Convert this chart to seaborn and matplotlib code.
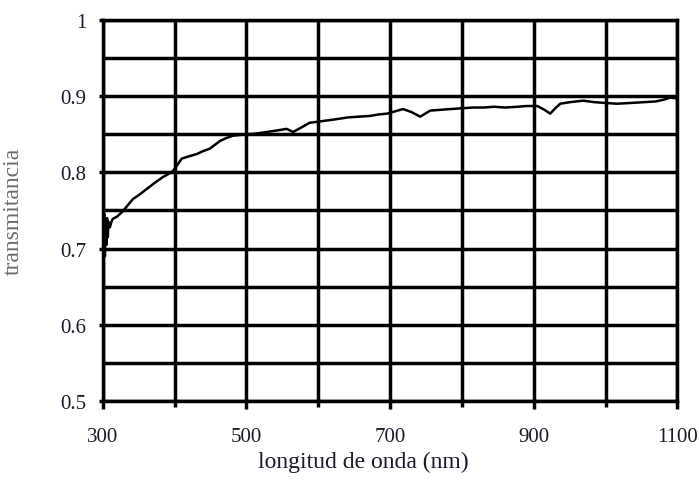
import matplotlib
matplotlib.use("Agg")
import matplotlib.pyplot as plt
from matplotlib.ticker import FixedLocator
import pandas as pd
import seaborn as sns

# Transmittance spectrum
wavelength = [300, 301, 302, 303, 304, 305, 306, 307, 308, 310, 312, 314,
              320, 328, 335, 342, 350, 361, 372, 384, 392, 398, 404, 410,
              420, 431, 440, 449, 456, 463, 472, 481, 490, 501, 515, 529,
              543, 556, 565, 575, 588, 604, 620, 641, 656, 672, 685, 696,
              707, 718, 730, 742, 756, 770, 784, 800, 815, 830, 845, 860,
              877, 890, 905, 915, 923, 930, 937, 950, 969, 985, 1000, 1016,
              1035, 1053, 1070, 1080, 1090, 1100]
transmittance = [0.700, 0.675, 0.745, 0.690, 0.735, 0.705, 0.740, 0.715, 0.735,
                 0.728, 0.735, 0.739, 0.742, 0.749, 0.757, 0.765, 0.770,
                 0.778, 0.786, 0.794, 0.798, 0.802, 0.810, 0.818, 0.821,
                 0.824, 0.828, 0.831, 0.836, 0.841, 0.845, 0.848, 0.849,
                 0.850, 0.851, 0.853, 0.855, 0.857, 0.853, 0.858, 0.865,
                 0.867, 0.869, 0.872, 0.873, 0.874, 0.876, 0.877, 0.880,
                 0.883, 0.879, 0.873, 0.881, 0.882, 0.883, 0.884, 0.885,
                 0.885, 0.886, 0.885, 0.886, 0.887, 0.887, 0.882, 0.877,
                 0.884, 0.890, 0.892, 0.894, 0.892, 0.891, 0.890, 0.891,
                 0.892, 0.893, 0.895, 0.898, 0.897]

x_major = [300, 500, 700, 900, 1100]
x_minor = [400, 600, 800, 1000]
y_major = [0.5, 0.6, 0.7, 0.8, 0.9, 1.0]
y_major_labels = ["0.5", "0.6", "0.7", "0.8", "0.9", "1"]
y_minor = [0.55, 0.65, 0.75, 0.85, 0.95]

df = pd.DataFrame({"wavelength": wavelength, "transmittance": transmittance})

sns.set_style("white")
plt.rcParams["font.family"] = ["Liberation Serif", "DejaVu Serif"]

fig = plt.figure(figsize=(6.99, 4.85), dpi=100)
ax = fig.add_axes([0.147, 0.171, 0.822, 0.786])

sns.lineplot(data=df, x="wavelength", y="transmittance", ax=ax,
             color="black", linewidth=1.8, estimator=None, sort=False)

ax.set_xlim(300, 1100)
ax.set_ylim(0.5, 1.0)
ax.xaxis.set_major_locator(FixedLocator(x_major))
ax.xaxis.set_minor_locator(FixedLocator(x_minor))
ax.set_xticklabels([str(v) for v in x_major])
ax.yaxis.set_major_locator(FixedLocator(y_major))
ax.yaxis.set_minor_locator(FixedLocator(y_minor))
ax.set_yticklabels(y_major_labels)

ax.grid(True, which="both", color="black", linewidth=2.5)
ax.set_axisbelow(False)
for s in ax.spines.values():
    s.set_color("black")
    s.set_linewidth(2.5)

ax.tick_params(axis="x", which="major", direction="out", length=6, width=2.5,
               color="black", labelsize=15, pad=13, bottom=True,
               labelcolor="#1a1a2a")
ax.tick_params(axis="x", which="minor", direction="out", length=4, width=2.5,
               color="black", bottom=True)
ax.tick_params(axis="y", which="major", direction="out", length=3, width=2.5,
               color="black", labelsize=15, pad=9, left=True,
               labelcolor="#1a1a2a")
ax.tick_params(axis="y", which="minor", length=0)

ax.set_xlabel("longitud de onda (nm)", fontsize=17, labelpad=2,
              color="#1a1a2a")
ax.xaxis.set_label_coords(0.453, -0.13)
ax.set_ylabel("transmitancia", fontsize=17, color="#6a6a6a")
ax.yaxis.set_label_coords(-0.138, 0.5)

fig.savefig("out.png", dpi=100)
